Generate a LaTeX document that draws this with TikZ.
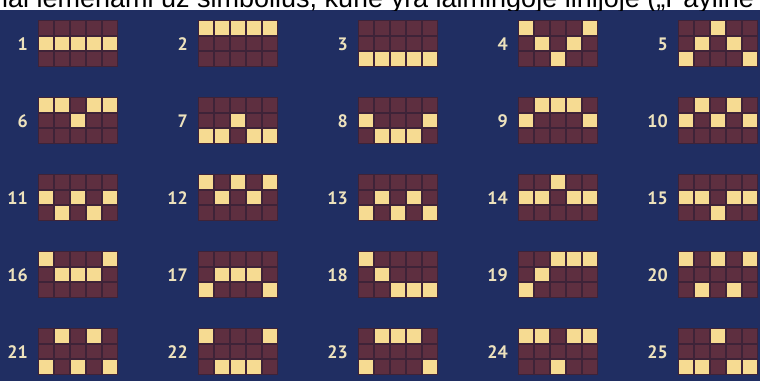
\documentclass[tikz,border=0pt]{standalone}
\usepackage{fontspec}
\setmainfont{Liberation Sans}
\newfontfamily\numfont{PT Sans}
\definecolor{bgnavy}{HTML}{202E62}
\definecolor{cellm}{HTML}{5E2F40}
\definecolor{celld}{HTML}{3E2338}
\definecolor{celly}{HTML}{F6DB92}
\definecolor{numc}{HTML}{EDE2BD}
\tikzset{
  numlabel/.style={anchor=east, inner sep=0pt, text=numc, font=\numfont\bfseries\fontsize{18}{18}\selectfont},
  titletext/.style={anchor=base west, inner sep=0pt, text=black, font=\fontsize{27}{27}\selectfont},
}
\begin{document}
\begin{tikzpicture}[x=1pt,y=-1pt]
\useasboundingbox (0,0) rectangle (760,381);
\fill[bgnavy] (0,0) rectangle (760,381);
\fill[white] (0,0) rectangle (760,10);
\begin{scope}
\clip (0,0) rectangle (760,10);
\node[titletext] (title) at (2,7) {iai lemenami už simbolius, kurie yra laimingoje linijoje („Payline};
\end{scope}
\foreach \n/\pa/\pb/\pc/\pd/\pe in {
  1/1/1/1/1/1, 2/0/0/0/0/0, 3/2/2/2/2/2, 4/0/1/2/1/0, 5/2/1/0/1/2,
  6/0/0/1/0/0, 7/2/2/1/2/2, 8/1/2/2/2/1, 9/1/0/0/0/1, 10/1/0/1/0/1,
  11/1/2/1/2/1, 12/0/1/0/1/0, 13/2/1/2/1/2, 14/1/1/0/1/1, 15/1/1/2/1/1,
  16/0/1/1/1/0, 17/2/1/1/1/2, 18/0/1/2/2/2, 19/2/1/0/0/0, 20/0/2/0/2/0,
  21/2/0/2/0/2, 22/0/2/2/2/0, 23/2/0/0/0/2, 24/0/0/2/0/0, 25/2/2/0/2/2}{
  \pgfmathsetmacro{\gl}{38+160*mod(\n-1,5)}
  \pgfmathsetmacro{\gt}{20+77*int((\n-1)/5)}
  \fill[celld] (\gl,\gt) rectangle ++(80,47);
  \foreach \k/\v in {0/\pa,1/\pb,2/\pc,3/\pd,4/\pe}{
    \foreach \r in {0,1,2}{
      \ifnum\r=\v\relax \def\cc{celly}\else \def\cc{cellm}\fi
      \fill[\cc] (\gl+16*\k+1,\gt+15.667*\r+1) rectangle ++(14,13.667);
    }
  }
  \node[numlabel] (num\n) at (\gl-10,\gt+24) {\n};
}
\end{tikzpicture}
\end{document}
